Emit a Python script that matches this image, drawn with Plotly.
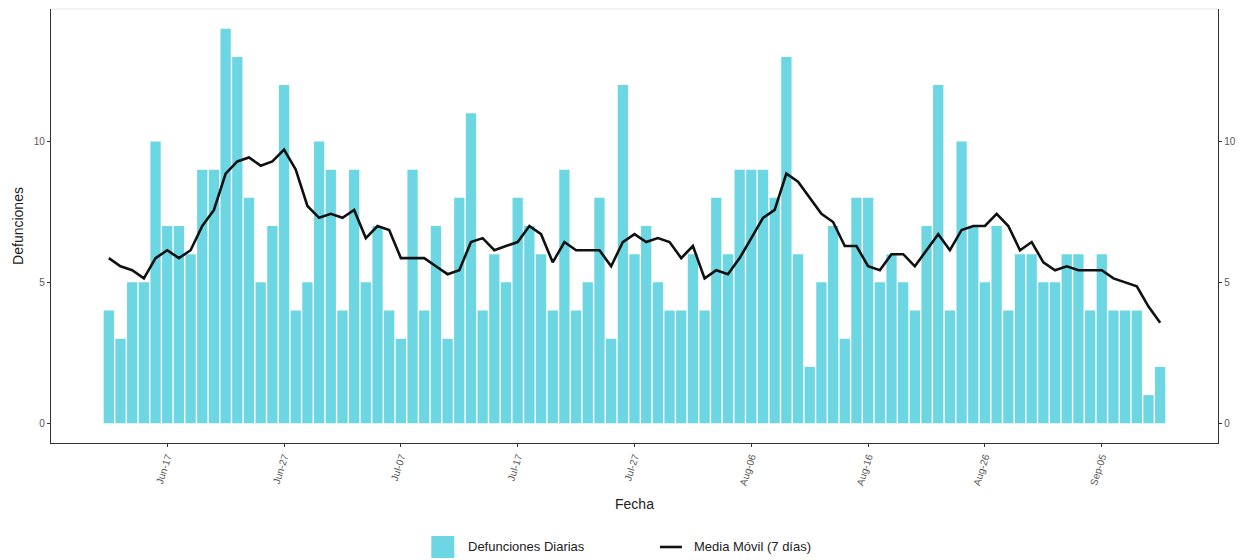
import pandas as pd
import plotly.graph_objects as go

# Daily deaths from 12 Jun to 10 Sep
fechas = pd.date_range("2020-06-12", "2020-09-10", freq="D")
defunciones = [
    4, 3, 5, 5, 10, 7, 7, 6, 9, 9,
    14, 13, 8, 5, 7, 12, 4, 5, 10, 9,
    4, 9, 5, 7, 4, 3, 9, 4, 7, 3,
    8, 11, 4, 6, 5, 8, 7, 6, 4, 9,
    4, 5, 8, 3, 12, 6, 7, 5, 4, 4,
    6, 4, 8, 6, 9, 9, 9, 8, 13, 6,
    2, 5, 7, 3, 8, 8, 5, 6, 5, 4,
    7, 12, 4, 10, 7, 5, 7, 4, 6, 6,
    5, 5, 6, 6, 4, 6, 4, 4, 4, 1, 2,
]
# 7-day moving average
media_movil = [
    5.86, 5.57, 5.43, 5.14, 5.86, 6.14, 5.86, 6.14, 7.0, 7.57,
    8.86, 9.29, 9.43, 9.14, 9.29, 9.71, 9.0, 7.71, 7.29, 7.43,
    7.29, 7.57, 6.57, 7.0, 6.86, 5.86, 5.86, 5.86, 5.57, 5.29,
    5.43, 6.43, 6.57, 6.14, 6.29, 6.43, 7.0, 6.71, 5.71, 6.43,
    6.14, 6.14, 6.14, 5.57, 6.43, 6.71, 6.43, 6.57, 6.43, 5.86,
    6.29, 5.14, 5.43, 5.29, 5.86, 6.57, 7.29, 7.57, 8.86, 8.57,
    8.0, 7.43, 7.14, 6.29, 6.29, 5.57, 5.43, 6.0, 6.0, 5.57,
    6.14, 6.71, 6.14, 6.86, 7.0, 7.0, 7.43, 7.0, 6.14, 6.43,
    5.71, 5.43, 5.57, 5.43, 5.43, 5.43, 5.14, 5.0, 4.86, 4.14, 3.57,
]
y_ticks = [0, 5, 10]
x_tick0 = "2020-06-17"

BAR_COLOR = "#6CD6E3"
AXIS_COLOR = "#333333"
TICK_FONT = dict(family="Liberation Sans, Arial, sans-serif", size=10, color="#595959")
FONT = "Liberation Sans, Arial, sans-serif"
DAY_MS = 86400000

y_range = [-0.7, 14.7]
x_range = [fechas[0] - pd.Timedelta(days=4.95), fechas[-1] + pd.Timedelta(days=4.95)]

fig = go.Figure()
fig.add_trace(go.Bar(
    x=fechas, y=defunciones, name="Defunciones Diarias",
    marker=dict(color=BAR_COLOR, line=dict(width=0)),
    width=0.88 * DAY_MS, showlegend=False,
))
fig.add_trace(go.Scatter(
    x=fechas, y=media_movil, name="Media Móvil (7 días)", yaxis="y2",
    mode="lines", line=dict(color="#111111", width=2.6), showlegend=False,
))

fig.update_layout(
    width=1245, height=560,
    margin=dict(l=51, r=25, t=9, b=117),
    paper_bgcolor="white", plot_bgcolor="white",
    font=dict(family=FONT, color="#222222"),
    xaxis=dict(
        type="date", range=x_range,
        tick0=x_tick0, dtick=10 * DAY_MS, tickformat="%b-%d",
        tickangle=-72, tickfont=TICK_FONT,
        ticks="outside", ticklen=3, tickwidth=1, tickcolor=AXIS_COLOR,
        showline=True, linecolor=AXIS_COLOR, linewidth=1.4,
        showgrid=False, zeroline=False,
        title=dict(text="Fecha", font=dict(size=14, color="#222222"), standoff=13),
    ),
    yaxis=dict(
        range=y_range, tickvals=y_ticks, tickfont=TICK_FONT,
        ticks="outside", ticklen=3, tickwidth=1, tickcolor=AXIS_COLOR,
        showline=True, linecolor=AXIS_COLOR, linewidth=1.4,
        showgrid=False, zeroline=False,
        title=dict(text="Defunciones", font=dict(size=14, color="#222222"), standoff=6),
    ),
    yaxis2=dict(
        range=y_range, tickvals=y_ticks, tickfont=TICK_FONT,
        overlaying="y", side="right",
        ticks="outside", ticklen=3, tickwidth=1, tickcolor=AXIS_COLOR,
        showline=True, linecolor=AXIS_COLOR, linewidth=1.4,
        showgrid=False, zeroline=False,
    ),
    showlegend=False,
)

# light top border of the panel
fig.add_shape(type="line", xref="paper", yref="paper", x0=0, x1=1, y0=1, y1=1,
              line=dict(color="#E6E6E6", width=1))

# legend below the panel
fig.add_shape(type="rect", xref="paper", yref="paper",
              x0=0.3259, x1=0.3456, y0=-0.265, y1=-0.2143,
              fillcolor=BAR_COLOR, line=dict(width=0))
fig.add_annotation(text="Defunciones Diarias", xref="paper", yref="paper",
                   x=0.3559, y=-0.2396, xanchor="left", yanchor="middle",
                   showarrow=False, font=dict(family=FONT, size=13, color="#222222"))
fig.add_shape(type="line", xref="paper", yref="paper",
              x0=0.5218, x1=0.5406, y0=-0.2396, y1=-0.2396,
              line=dict(color="#111111", width=2.6))
fig.add_annotation(text="Media Móvil (7 días)", xref="paper", yref="paper",
                   x=0.5492, y=-0.2396, xanchor="left", yanchor="middle",
                   showarrow=False, font=dict(family=FONT, size=13, color="#222222"))

fig.write_html("out.html")
